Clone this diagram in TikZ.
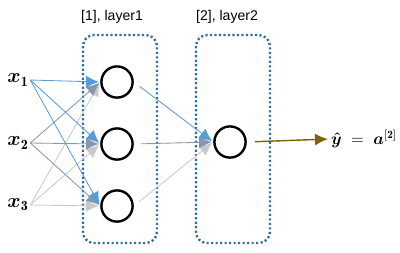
\documentclass[tikz,border=0pt]{standalone}
\usepackage{amsmath}
\usepackage{fontspec}
\setsansfont{Liberation Sans}
\usetikzlibrary{arrows.meta}
\definecolor{boxblue}{HTML}{2E6DA4}
\definecolor{wblue}{HTML}{5B9BD5}
\definecolor{wslate}{HTML}{8497B0}
\definecolor{wgrey}{HTML}{C9C9C9}
\definecolor{outbrown}{HTML}{806000}

\begin{document}
\begin{tikzpicture}[x=0.025cm, y=-0.025cm, line width=0.6pt,
  neuron/.style={circle, draw=black, line width=1.7pt, minimum size=0.78cm, inner sep=0pt},
  layerbox/.style={draw=boxblue, line width=1.7pt, dash pattern=on 1.5pt off 1.7pt, rounded corners=0.28cm},
  wire/.style={-{Latex[length=3.2mm,width=3mm]}, shorten >=1pt},
  boxlabel/.style={font=\sffamily},
  inlabel/.style={font=\Large, inner sep=1pt}]
  \useasboundingbox (0,0) rectangle (400,252);
  \def\hx{117}   % x of the hidden layer
  \def\ox{230}   % x of the output neuron
  % layer frames
  \draw[layerbox] (83,35) rectangle (157,243);
  \draw[layerbox] (196,35) rectangle (270,243);
  \node[boxlabel] (lab1) at (112,17) {[1], layer1};
  \node[boxlabel] (lab2) at (227,17) {[2], layer2};
  % inputs
  \node[inlabel] (x1) at (18,80) {$\boldsymbol{x}_{\mathbf 1}$};
  \node[inlabel] (x2) at (18,143) {$\boldsymbol{x}_{\mathbf 2}$};
  \node[inlabel] (x3) at (18,205) {$\boldsymbol{x}_{\mathbf 3}$};
  % neurons
  \foreach \i/\y in {1/82,2/144,3/206}
    \node[neuron] (h\i) at (\hx,\y) {};
  \node[neuron] (o) at (\ox,142) {};
  % input weights (light ones first)
  \foreach \i/\c in {3/wgrey,2/wslate,1/wblue}
    \foreach \j in {1,2,3}
      \draw[wire, \c] (x\i.east) -- (h\j.west);
  % hidden to output
  \foreach \j/\c in {3/wgrey,2/wslate,1/wblue}
    \draw[wire, \c, shorten <=0.18cm] (h\j.east) -- (o.west);
  % prediction
  \node[font=\large, inner sep=1pt] (yhat) at (364,139) {$\boldsymbol{\hat{y}} \;=\; \boldsymbol{a}^{\mathbf{[2]}}$};
  \draw[wire, outbrown, line width=1pt, shorten <=0.2cm] (o.east) -- (yhat.west);
\end{tikzpicture}
\end{document}
